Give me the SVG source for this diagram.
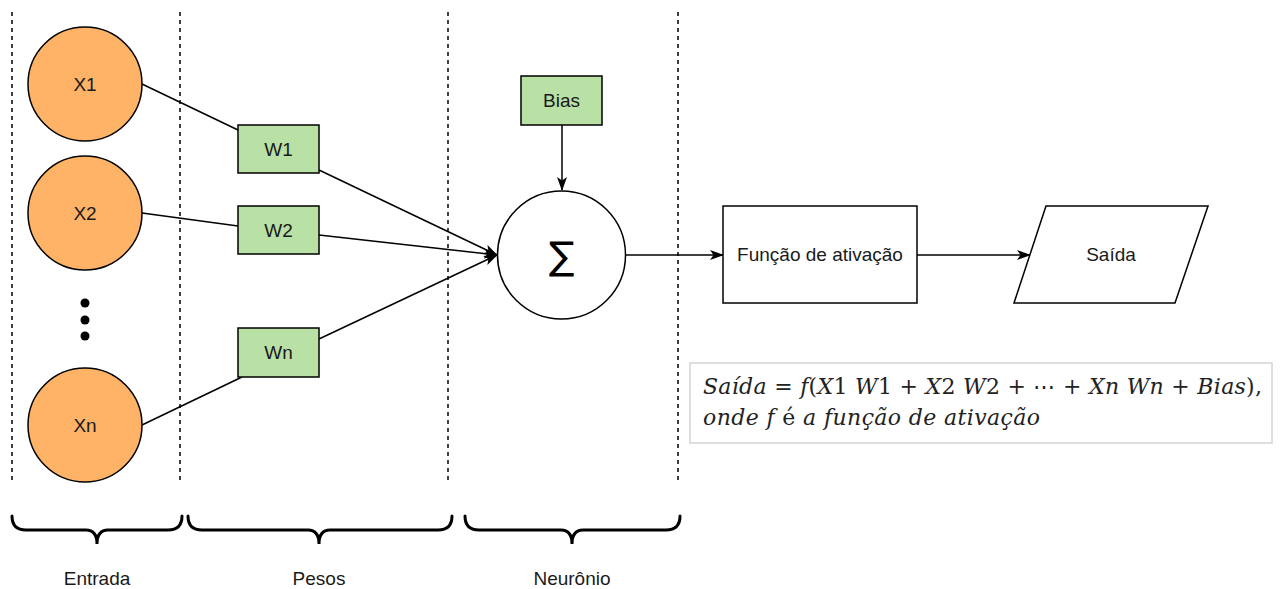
<svg xmlns="http://www.w3.org/2000/svg" width="1280" height="589" viewBox="0 0 1280 589">
  <defs>
    <marker id="arrow" viewBox="0 0 14 10" refX="13" refY="5" markerWidth="14" markerHeight="10" markerUnits="userSpaceOnUse" orient="auto">
      <path d="M0,0 L14,5 L0,10 L3.5,5 Z" fill="#000"/>
    </marker>
    <style>
      .lbl { font-family: "Liberation Sans", Arial, sans-serif; font-size: 19px; fill: #1a1a1a; text-anchor: middle; dominant-baseline: central; }
      .input { fill: #ffb366; stroke: #000; stroke-width: 1.5; }
      .weight { fill: #b9e0a5; stroke: #000; stroke-width: 1.5; }
      .plain { fill: #fff; stroke: #000; stroke-width: 1.5; }
      .sep { stroke: #000; stroke-width: 1.5; stroke-dasharray: 4 4; fill: none; }
      .edge { stroke: #000; stroke-width: 1.5; fill: none; }
      .brace { stroke: #000; stroke-width: 3; fill: none; stroke-linecap: round; }
      .math { font-family: "DejaVu Serif", "Liberation Serif", serif; font-size: 22px; fill: #222; }
      .it { font-style: italic; }
    </style>
  </defs>

  <rect width="1280" height="589" fill="#fff"/>

  <!-- column separators -->
  <g id="separators">
    <line class="sep" x1="12" y1="12" x2="12" y2="482"/>
    <line class="sep" x1="180" y1="12" x2="180" y2="482"/>
    <line class="sep" x1="448" y1="12" x2="448" y2="482"/>
    <line class="sep" x1="678" y1="12" x2="678" y2="482"/>
  </g>

  <!-- connectors -->
  <g id="connectors">
    <line class="edge" x1="142" y1="84" x2="238" y2="130"/>
    <line class="edge" x1="142" y1="213" x2="238" y2="226"/>
    <line class="edge" x1="142" y1="425" x2="242" y2="377"/>
    <line class="edge" x1="319" y1="170" x2="497" y2="255" marker-end="url(#arrow)"/>
    <line class="edge" x1="319" y1="235" x2="497" y2="255" marker-end="url(#arrow)"/>
    <line class="edge" x1="319" y1="339" x2="497" y2="255" marker-end="url(#arrow)"/>
    <line class="edge" x1="562" y1="125" x2="562" y2="190" marker-end="url(#arrow)"/>
    <line class="edge" x1="626" y1="255" x2="723" y2="255" marker-end="url(#arrow)"/>
    <line class="edge" x1="917" y1="255" x2="1030" y2="255" marker-end="url(#arrow)"/>
  </g>

  <!-- inputs -->
  <g id="x1">
    <circle class="input" cx="85" cy="84" r="57"/>
    <text class="lbl" x="85" y="84">X1</text>
  </g>
  <g id="x2">
    <circle class="input" cx="85" cy="213" r="57"/>
    <text class="lbl" x="85" y="213">X2</text>
  </g>
  <g id="ellipsis">
    <circle cx="85" cy="303" r="4.5" fill="#000"/>
    <circle cx="85" cy="320" r="4.5" fill="#000"/>
    <circle cx="85" cy="336" r="4.5" fill="#000"/>
  </g>
  <g id="xn">
    <circle class="input" cx="85" cy="425" r="57"/>
    <text class="lbl" x="85" y="425">Xn</text>
  </g>

  <!-- weights -->
  <g id="w1">
    <rect class="weight" x="238" y="125" width="81" height="48"/>
    <text class="lbl" x="278.5" y="149">W1</text>
  </g>
  <g id="w2">
    <rect class="weight" x="238" y="206" width="81" height="48"/>
    <text class="lbl" x="278.5" y="230">W2</text>
  </g>
  <g id="wn">
    <rect class="weight" x="238" y="328" width="81" height="49"/>
    <text class="lbl" x="278.5" y="352.5">Wn</text>
  </g>

  <!-- neuron -->
  <g id="bias">
    <rect class="weight" x="521" y="76" width="81" height="49"/>
    <text class="lbl" x="561.5" y="100.5">Bias</text>
  </g>
  <g id="sum">
    <circle class="plain" cx="561.5" cy="255" r="64"/>
    <text x="561.5" y="256" font-family="'DejaVu Sans', 'Liberation Sans', sans-serif" font-size="38" text-anchor="middle" dominant-baseline="central" fill="#000">∑</text>
  </g>

  <!-- activation and output -->
  <g id="activation">
    <rect class="plain" x="723" y="206" width="194" height="97"/>
    <text class="lbl" x="820" y="254.5">Função de ativação</text>
  </g>
  <g id="output">
    <polygon class="plain" points="1046,206 1208,206 1175,303 1014,303"/>
    <text class="lbl" x="1111" y="254.5">Saída</text>
  </g>

  <!-- formula -->
  <g id="formula">
    <rect x="690" y="363" width="582" height="80" fill="#fff" stroke="#d4d4d4" stroke-width="1.5"/>
    <text class="math" x="703" y="394" textLength="559" lengthAdjust="spacing"><tspan class="it">Saída</tspan> = <tspan class="it">f</tspan>(<tspan class="it">X</tspan>1 <tspan class="it">W</tspan>1 + <tspan class="it">X</tspan>2 <tspan class="it">W</tspan>2 + ⋯ + <tspan class="it">Xn Wn</tspan> + <tspan class="it">Bias</tspan>),</text>
    <text class="math" x="703" y="425" textLength="337" lengthAdjust="spacing"><tspan class="it">onde f</tspan> é <tspan class="it">a função de ativação</tspan></text>
  </g>

  <!-- group braces -->
  <g id="brace-entrada">
    <path class="brace" d="M12,516 Q12,530 26,530 L86,530 Q97,530 97,544 Q97,530 108,530 L168,530 Q182,530 182,516"/>
    <text class="lbl" x="97" y="578">Entrada</text>
  </g>
  <g id="brace-pesos">
    <path class="brace" d="M188,516 Q188,530 202,530 L308,530 Q319,530 319,544 Q319,530 330,530 L438,530 Q452,530 452,516"/>
    <text class="lbl" x="319" y="578">Pesos</text>
  </g>
  <g id="brace-neuronio">
    <path class="brace" d="M465,516 Q465,530 479,530 L561,530 Q572,530 572,544 Q572,530 583,530 L666,530 Q680,530 680,516"/>
    <text class="lbl" x="572" y="578">Neurônio</text>
  </g>
</svg>
